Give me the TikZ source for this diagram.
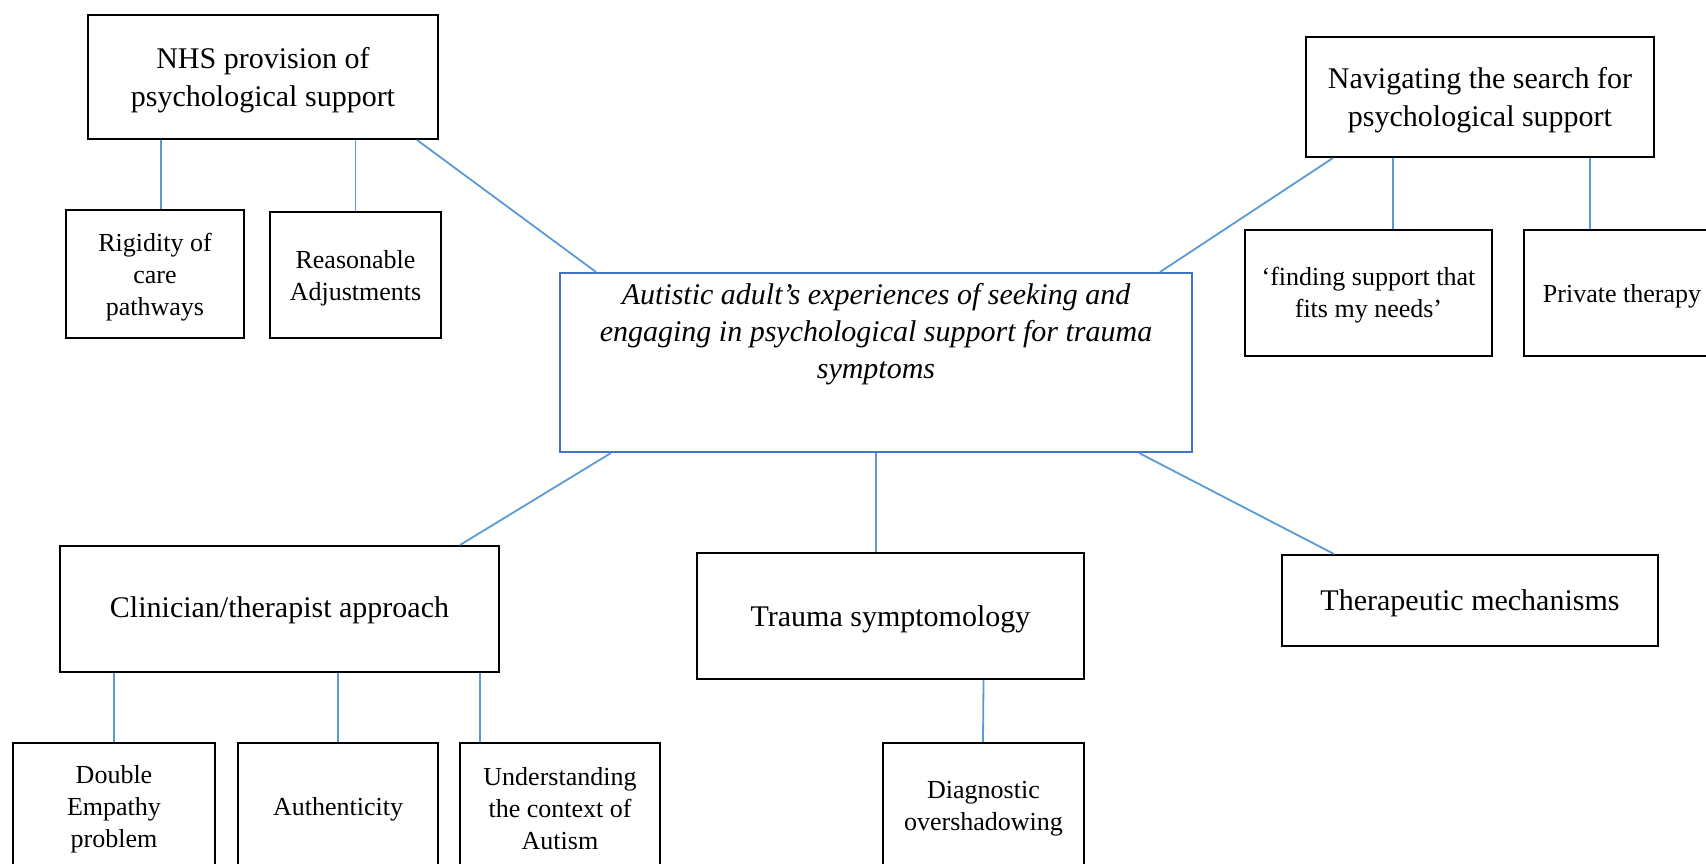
\documentclass[tikz,border=0pt]{standalone}
\usepackage{fontspec}
\setmainfont{Liberation Serif}
\definecolor{linkblue}{RGB}{91,155,213}
\definecolor{hubblue}{RGB}{68,114,196}
\begin{document}
\begin{tikzpicture}[x=1pt,y=-1pt,
  box/.style={draw=black, line width=2pt, inner sep=0pt},
  themetext/.style={align=center, inner sep=0pt, font=\fontsize{30}{38}\selectfont},
  subtext/.style={align=center, inner sep=0pt, font=\fontsize{26}{32}\selectfont},
  link/.style={draw=linkblue, line width=1.8pt},
  ]
\path[use as bounding box] (0,0) rectangle (1706,864);
\clip (0,0) rectangle (1706,864);
\fill[white] (0,0) rectangle (1706,864);

% central theme
\node[box, draw=hubblue, minimum width=632pt, minimum height=179pt] (hub) at (876,362.5) {};
\node[font=\itshape\fontsize{30}{37}\selectfont, align=center, inner sep=0pt] (hubtext) at (876,334)
  {Autistic adult’s experiences of seeking and\\engaging in psychological support for trauma\\symptoms};

% upper left branch
\node[box, minimum width=350pt, minimum height=124pt] (nhs) at (263,77) {};
\node[themetext] (nhs-t) at ([yshift=-3pt]nhs.center) {NHS provision of\\psychological support};
\node[box, minimum width=178pt, minimum height=128pt] (rigid) at (155,274) {};
\node[subtext] (rigid-t) at ([yshift=-3pt]rigid.center) {Rigidity of\\care\\pathways};
\node[box, minimum width=171pt, minimum height=126pt] (reason) at (355.5,275) {};
\node[subtext] (reason-t) at ([yshift=-3pt]reason.center) {Reasonable\\Adjustments};

% upper right branch
\node[box, minimum width=348pt, minimum height=120pt] (nav) at (1480,97) {};
\node[themetext] (nav-t) at ([yshift=-3pt]nav.center) {Navigating the search for\\psychological support};
\node[box, minimum width=247pt, minimum height=126pt] (fits) at (1368.5,293) {};
\node[subtext] (fits-t) at ([yshift=-2.5pt]fits.center) {‘finding support that\\fits my needs’};
\node[box, minimum width=196pt, minimum height=126pt] (private) at (1622,293) {};
\node[subtext] (private-t) at ([yshift=-3pt]private.center) {Private therapy};

% lower branches
\node[box, minimum width=439pt, minimum height=126pt] (clin) at (279.5,609) {};
\node[themetext] (clin-t) at ([yshift=-1.5pt]clin.center) {Clinician/therapist approach};
\node[box, minimum width=387pt, minimum height=126pt] (trauma) at (890.5,616) {};
\node[themetext] (trauma-t) at ([yshift=-3pt]trauma.center) {Trauma symptomology};
\node[box, minimum width=376pt, minimum height=91pt] (mech) at (1470,600.5) {};
\node[themetext] (mech-t) at ([yshift=-3pt]mech.center) {Therapeutic mechanisms};

\node[box, minimum width=202pt, minimum height=126pt] (dep) at (114,806) {};
\node[subtext] (dep-t) at ([yshift=-3pt]dep.center) {Double\\Empathy\\problem};
\node[box, minimum width=200pt, minimum height=126pt] (auth) at (338,806) {};
\node[subtext] (auth-t) at ([yshift=-3pt]auth.center) {Authenticity};
\node[box, minimum width=200pt, minimum height=126pt] (ctx) at (560,806) {};
\node[subtext] (ctx-t) at ([yshift=-3pt]ctx.center) {Understanding\\the context of\\Autism};
\node[box, minimum width=201pt, minimum height=126pt] (overshadow) at (983.5,806) {};
\node[subtext] (overshadow-t) at ([yshift=-3pt]overshadow.center) {Diagnostic\\overshadowing};

% connectors
\draw[link] ([xshift=154pt]nhs.south) -- ([xshift=-280pt]hub.north);
\draw[link] ([xshift=-102pt]nhs.south) -- ([xshift=6pt]rigid.north);
\draw[link] ([xshift=92.5pt]nhs.south) -- (reason.north);
\draw[link] ([xshift=-147pt]nav.south) -- ([xshift=284pt]hub.north);
\draw[link] ([xshift=-87pt]nav.south) -- ([xshift=24.5pt]fits.north);
\draw[link] ([xshift=110pt]nav.south) -- ([xshift=-32pt]private.north);
\draw[link] ([xshift=-265pt]hub.south) -- ([xshift=180.5pt]clin.north);
\draw[link] (hub.south) -- ([xshift=-14.5pt]trauma.north);
\draw[link] ([xshift=263pt]hub.south) -- ([xshift=-136pt]mech.north);
\draw[link] ([xshift=-165.5pt]clin.south) -- (dep.north);
\draw[link] ([xshift=58.5pt]clin.south) -- (auth.north);
\draw[link] ([xshift=200.5pt]clin.south) -- ([xshift=-80pt]ctx.north);
\draw[link] ([xshift=93pt]trauma.south) -- ([xshift=-0.5pt]overshadow.north);
\end{tikzpicture}
\end{document}
